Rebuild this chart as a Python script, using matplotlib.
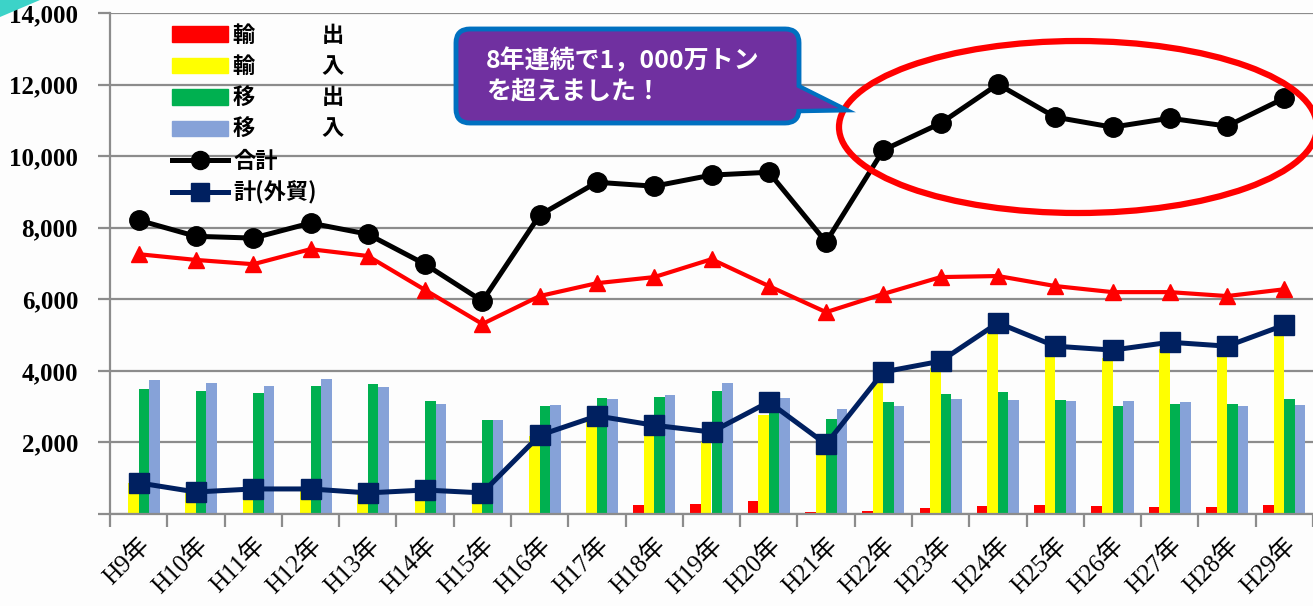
import matplotlib
matplotlib.use("Agg")
import matplotlib.pyplot as plt
from matplotlib.patches import Ellipse, FancyBboxPatch, Polygon, Patch
from matplotlib.lines import Line2D
from matplotlib.transforms import Affine2D
import numpy as np

plt.rcParams['font.family'] = ['Noto Sans CJK JP', 'DejaVu Sans']

years = ["H9年", "H10年", "H11年", "H12年", "H13年", "H14年", "H15年", "H16年",
         "H17年", "H18年", "H19年", "H20年", "H21年", "H22年", "H23年", "H24年",
         "H25年", "H26年", "H27年", "H28年", "H29年"]

# bars (千トン)
yushutsu = [10, 15, 15, 15, 30, 30, 20, 20, 40, 250, 280, 370, 60, 80, 180, 230, 260, 225, 190, 205, 260]
yunyu = [860, 600, 690, 690, 570, 650, 570, 2180, 2700, 2230, 2010, 2760, 1890, 3890, 4090, 5110, 4430, 4355, 4610, 4485, 5020]
ishutsu = [3480, 3430, 3380, 3590, 3620, 3150, 2640, 3020, 3230, 3260, 3430, 3150, 2660, 3120, 3360, 3410, 3180, 3030, 3060, 3060, 3210]
inyu = [3750, 3650, 3570, 3780, 3540, 3080, 2630, 3050, 3200, 3330, 3660, 3250, 2930, 3010, 3210, 3180, 3150, 3150, 3120, 3010, 3040]

# lines
goukei = [8210, 7760, 7710, 8130, 7820, 6980, 5950, 8350, 9270, 9160, 9470, 9550, 7600, 10170, 10920, 12010, 11090, 10810, 11060, 10840, 11620]
gaiboe = [870, 615, 700, 700, 590, 670, 590, 2200, 2740, 2480, 2290, 3130, 1950, 3970, 4270, 5340, 4690, 4580, 4800, 4690, 5280]
naiboe = [7260, 7100, 6980, 7400, 7210, 6260, 5310, 6090, 6450, 6620, 7120, 6370, 5640, 6150, 6620, 6650, 6370, 6200, 6200, 6090, 6280]

legend_labels = ["輸\u3000\u3000\u3000出", "輸\u3000\u3000\u3000入", "移\u3000\u3000\u3000出",
                 "移\u3000\u3000\u3000入", "合計", "計(外貿)"]
callout_text = "8年連続で1，000万トン\nを超えました！"

RED = '#FF0000'
YELLOW = '#FFFF00'
GREEN = '#00B050'
LBLUE = '#86A2D8'
NAVY = '#002060'
GRID = '#8c8c8c'

W, H = 1313, 606
fig = plt.figure(figsize=(W / 100, H / 100), dpi=100)
fig.patch.set_facecolor('#fdfdfd')
ax = fig.add_axes([110 / W, 1 - 514 / H, 1203 / W, 501 / H])
ax.set_facecolor('none')

x = np.arange(len(years))
w = 0.184
ax.bar(x - 1.5 * w, yushutsu, w, color=RED, zorder=2)
ax.bar(x - 0.5 * w, yunyu, w, color=YELLOW, zorder=2)
ax.bar(x + 0.5 * w, ishutsu, w, color=GREEN, zorder=2)
ax.bar(x + 1.5 * w, inyu, w, color=LBLUE, zorder=2)

ax.plot(x, naiboe, color=RED, lw=3, marker='^', ms=12, zorder=3)
ax.plot(x, goukei, color='black', lw=3.6, marker='o', ms=14, zorder=4)
ax.plot(x, gaiboe, color=NAVY, lw=3.6, marker='s', ms=15, zorder=4)

ax.set_xlim(-0.5, len(years) - 0.5)
ax.set_ylim(0, 14000)
yt = list(range(0, 14001, 2000))
ax.set_yticks(yt)
ax.set_yticklabels(["" if v == 0 else f"{v:,}" for v in yt],
                   family=['Liberation Serif'], fontsize=18, fontweight='bold')
ax.yaxis.grid(True, color=GRID, lw=1.6)
ax.set_axisbelow(True)
ax.tick_params(axis='y', length=9, width=1.6, color=GRID, pad=14)

ax.set_xticks(x)
ax.set_xticklabels(years, rotation=45, ha='right', va='top', rotation_mode='anchor',
                   family=['Liberation Serif', 'Noto Sans CJK JP'], fontsize=18)
ax.tick_params(axis='x', which='major', length=0, pad=14)
ax.set_xticks(np.arange(len(years) + 1) - 0.5, minor=True)
ax.tick_params(axis='x', which='minor', length=9, width=1.6, color=GRID)

for s in ['top', 'right']:
    ax.spines[s].set_visible(False)
for s in ['left', 'bottom']:
    ax.spines[s].set_color(GRID)
    ax.spines[s].set_linewidth(1.6)

handles = [Patch(color=RED), Patch(color=YELLOW), Patch(color=GREEN), Patch(color=LBLUE),
           Line2D([], [], color='black', lw=3.6, marker='o', ms=13),
           Line2D([], [], color=NAVY, lw=3.6, marker='s', ms=13)]
fig.legend(handles, legend_labels, loc='upper left', bbox_to_anchor=(172 / W, 1 - 24 / H),
           frameon=False, prop=dict(family=['Noto Sans CJK JP'], size=16, weight='bold'),
           handlelength=2.5, handleheight=0.7, handletextpad=0.25, labelspacing=0.38,
           borderpad=0, borderaxespad=0)

# pixel transform (origin top-left)
px = Affine2D().scale(1, -1).translate(0, H)

# top-left decoration
fig.add_artist(Polygon([(0, 0), (40, 0), (0, 17)], closed=True, fc='#3CD3C8', ec='none', transform=px))

# callout
tail = [(790, 82), (846, 110), (790, 111)]
fig.add_artist(Polygon(tail, closed=True, fc='#7030A0', ec='#0070C0', lw=3.5, transform=px, zorder=6))
fig.add_artist(FancyBboxPatch((456, 29), 343, 94, boxstyle='round,pad=0,rounding_size=14',
                              fc='#7030A0', ec='#0070C0', lw=3.5, transform=px, zorder=7))
cx = sum(p[0] for p in tail) / 3
cy = sum(p[1] for p in tail) / 3
inner = [(cx + 0.8 * (p[0] - cx), cy + 0.8 * (p[1] - cy)) for p in tail]
fig.add_artist(Polygon(inner, closed=True, fc='#7030A0', ec='none', transform=px, zorder=8))
fig.text(486 / W, 1 - 76 / H, callout_text, color='white', fontsize=18, fontweight='bold',
         ha='left', va='center', linespacing=1.3, zorder=9,
         family=['Noto Sans CJK JP'])

# highlight ellipse
fig.add_artist(Ellipse((1078, 127), 478, 172, fill=False, ec=RED, lw=4.5, transform=px, zorder=5))

fig.savefig('out.png', dpi=100, facecolor=fig.get_facecolor())
